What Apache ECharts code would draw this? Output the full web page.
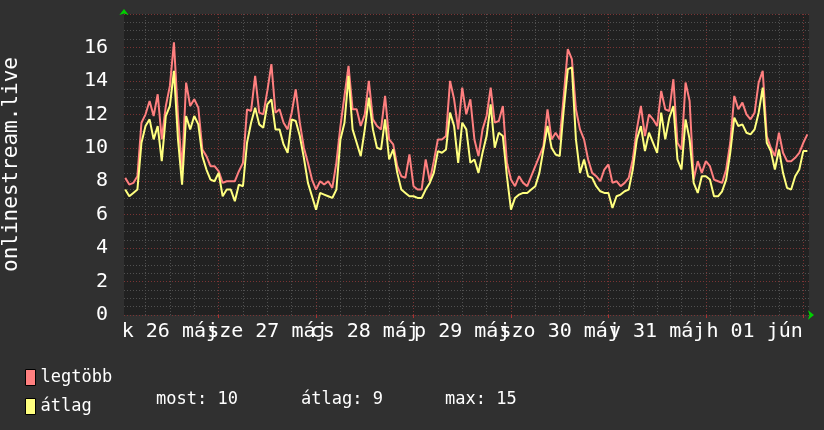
<!DOCTYPE html>
<html><head><meta charset="utf-8">
<script src="https://cdn.jsdelivr.net/npm/echarts@6/dist/echarts.min.js"></script>
<style>html,body{margin:0;padding:0;background:#303030}#c{width:824px;height:430px}</style>
</head><body><div id="c"></div>
<script>
// hours counted from 00:00, 26 May
const axisStartHour = 0.7;
const axisEndHour = 169.4;
const firstSampleHour = 1;
const dayBoundaryHours = [24, 48, 72, 96, 120, 144, 168];
const sixHourGridHours = [6, 12, 18, 30, 36, 42, 54, 60, 66, 78, 84, 90, 102, 108, 114, 126, 132, 138, 150, 156, 162];
const dayLabelHours = [12, 36, 60, 84, 108, 132, 156];
const dayLabels = ['k 26 máj', 'sze 27 máj', 'cs 28 máj', 'p 29 máj', 'szo 30 máj', 'v 31 máj', 'h 01 jún'];
const yAxisName = 'onlinestream.live';
const seriesNames = ['legtöbb', 'átlag'];
const statTexts = ['most: 10', 'átlag: 9', 'max: 15'];

// legtöbb (max), one value per hour
const maxValues = [
  8.2, 7.8, 7.9, 8.3, 11.5, 12.0, 12.8, 11.9, 13.2, 10.5, 12.5, 13.7, 16.3, 11.9, 8.7, 13.9, 12.5, 12.9, 12.4, 9.9, 9.5, 8.9, 8.9, 8.6, 7.9, 8.0, 8.0, 8.0, 8.6,
  9.1, 12.3, 12.2, 14.3, 12.1, 12.0, 13.4, 15.0, 12.1, 12.3, 11.5, 11.1, 12.1, 13.5, 11.5, 10.0, 9.1, 8.1, 7.5, 8.0, 7.8, 8.0, 7.6, 9.1, 11.3, 13.1, 14.9, 12.3,
  12.3, 11.3, 12.0, 14.0, 11.7, 11.3, 11.1, 13.1, 10.5, 10.2, 8.9, 8.3, 8.2, 9.6, 7.7, 7.5, 7.5, 9.3, 8.0, 9.2, 10.5, 10.5, 10.7, 14.0, 12.9, 11.1, 13.6, 12.0, 12.9,
  10.5, 9.5, 11.1, 11.9, 13.6, 11.5, 11.6, 12.5, 9.1, 8.1, 7.7, 8.3, 7.9, 7.7, 8.3, 8.9, 9.5, 10.1, 12.3, 10.5, 10.9, 10.5, 13.1, 15.9, 15.3, 12.3, 11.1, 10.5,
  9.3, 8.5, 8.3, 8.0, 8.7, 9.0, 7.9, 8.0, 7.7, 7.9, 8.2, 9.3, 11.1, 12.5, 10.7, 12.0, 11.7, 11.3, 13.4, 12.3, 12.2, 14.1, 10.3, 9.9, 13.9, 12.8, 8.1, 9.2, 8.5,
  9.2, 8.9, 8.1, 8.0, 7.9, 8.7, 10.3, 13.1, 12.3, 12.7, 12.0, 11.7, 12.1, 13.9, 14.6, 10.7, 10.0, 9.5, 10.9, 9.7, 9.2, 9.2, 9.4, 9.7, 10.3, 10.8
];
// átlag (average), one value per hour
const avgValues = [
  7.5, 7.1, 7.3, 7.5, 10.3, 11.3, 11.7, 10.5, 11.3, 9.2, 11.9, 12.5, 14.6, 10.5, 7.8, 11.9, 11.1, 11.9, 11.4, 9.5, 8.7, 8.1, 8.0, 8.5, 7.1, 7.5, 7.5, 6.8, 7.8,
  7.7, 10.3, 11.5, 12.4, 11.4, 11.2, 12.6, 12.9, 11.1, 11.1, 10.2, 9.7, 11.7, 11.6, 10.7, 9.4, 7.9, 7.1, 6.3, 7.3, 7.2, 7.1, 7.0, 7.5, 10.5, 11.5, 14.3, 11.1,
  10.3, 9.5, 11.1, 13.0, 11.1, 10.0, 9.9, 11.7, 9.3, 9.9, 8.5, 7.5, 7.3, 7.1, 7.1, 7.0, 7.0, 7.5, 7.9, 8.5, 9.8, 9.7, 9.9, 12.1, 11.3, 9.1, 11.5, 11.1, 9.1,
  9.3, 8.5, 9.7, 10.7, 12.6, 10.0, 10.9, 10.7, 8.3, 6.3, 7.0, 7.2, 7.3, 7.3, 7.5, 7.7, 8.5, 9.9, 11.3, 10.0, 9.6, 9.5, 12.3, 14.7, 14.8, 10.5, 8.5, 9.3,
  8.3, 8.2, 7.7, 7.4, 7.3, 7.3, 6.4, 7.1, 7.2, 7.4, 7.5, 8.7, 10.5, 11.3, 9.8, 10.9, 10.3, 9.7, 12.1, 10.5, 11.8, 12.5, 9.3, 8.7, 11.7, 10.5, 7.9, 7.3, 8.3,
  8.3, 8.1, 7.1, 7.1, 7.4, 8.1, 9.7, 11.8, 11.3, 11.4, 10.9, 10.8, 11.1, 12.1, 13.6, 10.3, 9.8, 8.7, 9.9, 8.5, 7.6, 7.5, 8.3, 8.7, 9.8, 9.8
];

const MONO = 'DejaVu Sans Mono';
const RED_GRID = '#7a3434';
const GRAY_GRID = '#505050';
const ARROW = '#00d000';

const toPairs = arr => arr.map((v, i) => [firstSampleHour + i, v]);
const labelFor = v => dayLabels[dayLabelHours.indexOf(Math.round(v))] || '';
// labels are split over two axes so that overlapping neighbours are both drawn
const evenLabelHours = dayLabelHours.filter((h, i) => i % 2 === 0);
const oddLabelHours = dayLabelHours.filter((h, i) => i % 2 === 1);
const labelStyle = {color: '#ffffff', fontFamily: MONO, fontSize: 20, lineHeight: 21, margin: 6,
                    hideOverlap: false, formatter: labelFor};

const chart = echarts.init(document.getElementById('c'), null, {renderer: 'canvas'});
chart.setOption({
  animation: false,
  backgroundColor: '#303030',
  grid: {left: 124, right: 15, top: 14, bottom: 115, show: true, backgroundColor: '#212121', borderWidth: 0,
         containLabel: false, outerBoundsMode: 'none'},
  legend: {
    data: seriesNames, orient: 'vertical', left: 20, top: 364,
    itemWidth: 10, itemHeight: 16, itemGap: 12, icon: 'rect',
    itemStyle: {borderColor: '#000', borderWidth: 1},
    textStyle: {color: '#ffffff', fontFamily: MONO, fontSize: 17},
    selectedMode: false
  },
  graphic: statTexts.map((t, i) => ({
    type: 'text', left: [156, 301, 445][i], top: 391,
    style: {text: t, fill: '#ffffff', font: '17px "DejaVu Sans Mono"'}
  })),
  xAxis: [
    {
      type: 'value', min: axisStartHour, max: axisEndHour,
      axisLine: {show: true, symbol: ['none', 'arrow'], symbolSize: [7, 6], symbolOffset: [0, 5], lineStyle: {color: ARROW, width: 0}},
      axisTick: {show: true, customValues: dayBoundaryHours, length: 3, lineStyle: {color: '#b03030'}},
      splitLine: {show: true, lineStyle: {color: RED_GRID, type: [1, 2], width: 1}},
      axisLabel: Object.assign({customValues: evenLabelHours}, labelStyle)
    },
    {
      type: 'value', min: axisStartHour, max: axisEndHour, position: 'bottom',
      axisLine: {show: false}, axisLabel: {show: false},
      axisTick: {show: false, customValues: sixHourGridHours},
      splitLine: {show: true, lineStyle: {color: GRAY_GRID, type: [1, 2], width: 1}}
    },
    {
      type: 'value', min: axisStartHour, max: axisEndHour, position: 'bottom',
      axisLine: {show: false}, axisTick: {show: false, customValues: oddLabelHours}, splitLine: {show: false},
      axisLabel: Object.assign({customValues: oddLabelHours}, labelStyle)
    }
  ],
  yAxis: {
    type: 'value', min: 0, max: 18, interval: 2,
    name: yAxisName, nameLocation: 'middle', nameRotate: 90, nameGap: 102,
    nameTextStyle: {color: '#ffffff', fontFamily: MONO, fontSize: 21},
    axisLine: {show: true, symbol: ['none', 'arrow'], symbolSize: [7, 6], symbolOffset: [0, 5], lineStyle: {color: ARROW, width: 0}},
    axisTick: {show: false},
    axisLabel: {color: '#ffffff', fontFamily: MONO, fontSize: 20, margin: 16, showMaxLabel: false},
    splitLine: {show: true, lineStyle: {color: RED_GRID, type: [1, 2], width: 1}},
    minorTick: {show: false, splitNumber: 4},
    minorSplitLine: {show: true, lineStyle: {color: GRAY_GRID, type: [1, 2], width: 1}}
  },
  series: [
    {name: seriesNames[0], type: 'line', data: toPairs(maxValues), showSymbol: false, symbol: 'none',
     itemStyle: {color: '#ff7f7f'}, lineStyle: {color: '#ff7f7f', width: 2}, z: 3},
    {name: seriesNames[1], type: 'line', data: toPairs(avgValues), showSymbol: false, symbol: 'none',
     itemStyle: {color: '#ffff7f'}, lineStyle: {color: '#ffff7f', width: 2}, z: 4}
  ]
});
</script></body></html>
